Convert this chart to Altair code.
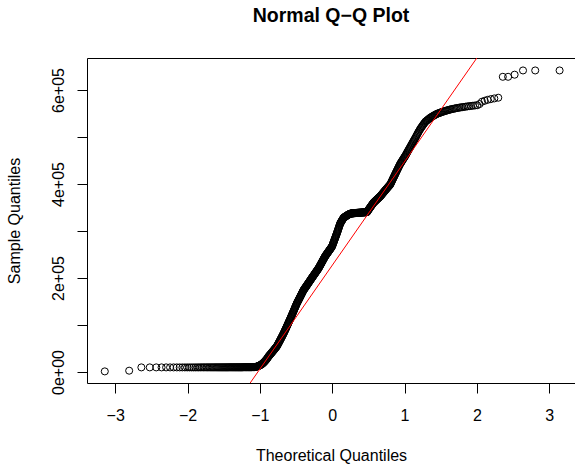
import altair as alt
import pandas as pd

# Sorted sample values in thousands (rank 1 = lowest)
low_tail_k = [1.3, 2.8,
    9.8, 9.8, 9.8, 9.8, 9.8, 9.8, 9.8, 9.8, 9.8, 9.8, 9.8, 9.8, 9.8, 9.8, 9.8, 9.8, 9.8, 9.8,
    9.9, 9.9, 9.9, 9.9, 9.9, 9.9, 9.9, 9.9, 9.9, 9.9, 9.9, 9.9, 9.9, 9.9, 9.9, 9.9, 9.9, 9.9, 9.9, 9.9,
    9.9, 9.9, 9.9, 9.9, 9.9,
    10.0, 10.0, 10.0, 10.0, 10.0, 10.0, 10.0, 10.0, 10.0, 10.0, 10.0, 10.0, 10.0, 10.0, 10.0, 10.0, 10.0, 10.0, 10.0, 10.0,
    10.2, 10.2, 10.2, 10.2, 10.2, 10.2, 10.2, 10.2, 10.2, 10.2, 10.2, 10.2, 10.2, 10.2, 10.2,
    10.4, 10.4, 10.4, 10.4, 10.4,
    10.6, 10.8, 11.0, 11.3, 11.6, 12.0, 12.4, 12.8, 13.3, 13.8, 14.3, 14.9, 15.5, 16.2, 17.0,
    17.8, 18.7, 19.6, 20.6, 21.6, 22.7, 23.8, 25.0, 26.2, 27.4, 28.7, 30.0, 31.5, 33.0]

rise_k = [34.1, 35.2, 36.3, 37.4, 38.5, 39.6, 40.7, 41.8, 42.9, 44.0, 45.1, 46.2, 47.3, 48.4, 49.5,
    50.6, 51.7, 52.8, 53.9, 55.0,
    56.6, 58.2, 59.8, 61.4, 63.0, 64.5, 66.1, 67.7, 69.3, 70.9, 72.5, 74.1, 75.6, 77.2, 78.8, 80.4, 82.0,
    83.7, 85.4, 87.2, 88.9, 90.6, 92.3, 94.1, 95.8, 97.5, 99.2, 100.9, 102.7, 104.4, 106.1, 107.8, 109.6,
    111.3, 113.0,
    114.7, 116.5, 118.2, 119.9, 121.7, 123.4, 125.2, 126.9, 128.6, 130.4, 132.1, 133.8, 135.6, 137.3,
    139.1, 140.8, 142.5, 144.3, 146.0,
    147.4, 148.8, 150.2, 151.6, 153.0, 154.4, 155.8, 157.2, 158.6, 160.0, 161.4, 162.8, 164.2, 165.6,
    167.0, 168.4, 169.8, 171.2, 172.6, 174.0,
    175, 176, 177, 178, 179, 180, 181, 182, 183, 184, 185, 186, 187, 188, 189, 190, 191, 192, 193, 194,
    195, 196, 197, 198, 199, 200,
    201.0, 201.9, 202.9, 203.8, 204.8, 205.7, 206.7, 207.6, 208.6, 209.5, 210.5, 211.5, 212.4, 213.4,
    214.3, 215.3, 216.2, 217.2, 218.1, 219.1, 220.0, 221.0,
    222.2, 223.4, 224.6, 225.8, 227.0, 228.1, 229.3, 230.5, 231.7, 232.9, 234.1, 235.3, 236.5, 237.7,
    238.9, 240.0, 241.2, 242.4, 243.6, 244.8, 246.0,
    246.9, 247.8, 248.7, 249.7, 250.6, 251.5, 252.4, 253.3, 254.2, 255.1, 256.0, 257.0, 257.9, 258.8,
    259.7, 260.6, 261.5, 262.4, 263.3, 264.3, 265.2, 266.1, 267.0,
    268.8, 270.5, 272.3, 274.0, 275.8, 277.5, 279.3, 281.0, 282.8, 284.5, 286.3, 288.0, 289.8, 291.5,
    293.3, 295.0,
    296.9, 298.8, 300.7, 302.6, 304.5, 306.5, 308.4, 310.3, 312.2, 314.1, 316.0,
    317.1, 318.2, 319.3, 320.4, 321.5, 322.5, 323.6, 324.7, 325.8, 326.9, 328.0,
    328.5, 328.9, 329.4, 329.8, 330.3, 330.7, 331.2, 331.6, 332.1, 332.5, 333.0]

plateau_k = [333.4, 333.7, 334.1, 334.5, 334.8, 335.2, 335.5, 335.9, 336.3, 336.6, 337.0,
    337.1, 337.1, 337.2, 337.3, 337.4, 337.4, 337.5, 337.6, 337.6, 337.7, 337.8, 337.9, 337.9, 338.0,
    338.1, 338.1, 338.2, 338.3, 338.4, 338.4, 338.5,
    338.6, 338.6, 338.7, 338.7, 338.8, 338.8, 338.9, 338.9, 339.0, 339.0, 339.1, 339.1, 339.2, 339.2,
    339.3, 339.3, 339.4, 339.4, 339.5, 339.5, 339.6, 339.6, 339.7, 339.7, 339.8, 339.8, 339.9, 339.9,
    340.0, 340.0,
    341.1, 342.1, 343.2, 344.2, 345.3, 346.3, 347.4, 348.4, 349.5, 350.5, 351.6, 352.6, 353.7, 354.7,
    355.8, 356.8, 357.9, 358.9, 360.0]

upper_k = [360.7, 361.5, 362.2, 362.9, 363.7, 364.4, 365.2, 365.9, 366.6, 367.4, 368.1, 368.8, 369.6,
    370.3, 371.1, 371.8, 372.5, 373.3, 374.0,
    375, 376, 377, 378, 379, 380, 381, 382, 383, 384, 385, 386, 387, 388, 389, 390, 391, 392, 393, 394,
    395, 396, 397, 398, 399,
    400.9, 402.8, 404.7, 406.6, 408.5, 410.5, 412.4, 414.3, 416.2, 418.1, 420.0,
    422, 424, 426, 428, 430, 432, 434, 436, 438, 440, 442,
    443.6, 445.3, 446.9, 448.5, 450.2, 451.8, 453.5, 455.1, 456.7, 458.4, 460.0,
    462, 464, 466, 468, 470, 472, 474, 476, 478,
    480.1, 482.2, 484.3, 486.4, 488.6, 490.7, 492.8, 494.9, 497.0,
    499.4, 501.8, 504.1, 506.5, 508.9, 511.3, 513.6, 516.0,
    518, 520, 522, 524, 526, 528, 530, 532,
    533.3, 534.6, 535.9, 537.1, 538.4, 539.7, 541.0,
    542, 543, 544, 545, 546, 547, 548, 549,
    549.7, 550.4, 551.1, 551.9, 552.6, 553.3, 554.0,
    554.7, 555.3, 556.0, 556.7, 557.3, 558.0,
    558.6, 559.2, 559.8, 560.3, 560.9, 561.5,
    562.0, 562.5, 563.0, 563.5, 564.0, 564.5, 565.0,
    565.5, 566.0, 566.5, 567.0, 567.5, 570.0]

high_tail_k = [575, 577, 579, 580.5, 582, 583.5, 628, 628, 632.5, 641.5, 641.5, 641.5]

# Reference line (qqline) read at two points
qqline_x = [-1.2, 2.1]
qqline_y = [-37900, 690100]

x_ticks = [-3, -2, -1, 0, 1, 2, 3]
x_labels = ["\u22123", "\u22122", "\u22121", "0", "1", "2", "3"]
y_ticks = [0, 100000, 200000, 300000, 400000, 500000, 600000]
y_labels = ["0e+00", "", "2e+05", "", "4e+05", "", "6e+05"]

FONT = "Liberation Sans"

sample_k = low_tail_k + rise_k + plateau_k + upper_k + high_tail_k
pts = pd.DataFrame({"value": [v * 1000 for v in sample_k]})
line_df = pd.DataFrame({"x": qqline_x, "y": qqline_y})


def expr(ticks, labels):
    parts = [f"datum.value == {t} ? '{l}'" for t, l in zip(ticks, labels)]
    return " : ".join(parts) + " : ''"


xscale = alt.Scale(domain=[-3.39, 3.357], nice=False, zero=False)
yscale = alt.Scale(domain=[-23400, 668000], nice=False, zero=False)

xaxis = alt.Axis(values=x_ticks, labelExpr=expr(x_ticks, x_labels), grid=False, domain=False,
                 tickSize=10, tickColor="black", tickWidth=1, labelPadding=14,
                 labelFontSize=16, labelFont=FONT, labelColor="black", labelFlush=False,
                 labelOverlap=False, title="Theoretical Quantiles", titleFont=FONT,
                 titleFontSize=16, titleFontWeight="normal", titleColor="black",
                 titleBaseline="alphabetic", titleY=77.4)
yaxis = alt.Axis(values=y_ticks, labelExpr=expr(y_ticks, y_labels), grid=False, domain=False,
                 tickSize=10, tickColor="black", tickWidth=1, labelPadding=14,
                 labelAngle=-90, labelAlign="center", labelBaseline="alphabetic",
                 labelFontSize=16, labelFont=FONT, labelColor="black", labelFlush=False,
                 labelOverlap=False, title="Sample Quantiles", titleFont=FONT,
                 titleFontSize=16, titleFontWeight="normal", titleColor="black",
                 titleBaseline="alphabetic", titleAlign="center", titleAngle=-90,
                 titleX=-67.5, titleY=162.5)

points = alt.Chart(pts).transform_window(
    rank="row_number()", sort=[{"field": "value"}]
).transform_joinaggregate(
    n="count()"
).transform_calculate(
    theo="quantileNormal((datum.rank - 0.5) / datum.n)"
).mark_point(
    shape="circle", filled=False, color="black", size=50, strokeWidth=1, opacity=1, clip=True
).encode(
    x=alt.X("theo:Q", scale=xscale, axis=xaxis),
    y=alt.Y("value:Q", scale=yscale, axis=yaxis),
)

line = alt.Chart(line_df).mark_line(color="red", strokeWidth=1, clip=True).encode(
    x=alt.X("x:Q", scale=xscale, title="Theoretical Quantiles"),
    y=alt.Y("y:Q", scale=yscale, title="Sample Quantiles"),
)

chart = alt.layer(points, line).properties(
    width=488,
    height=325,
    title=alt.TitleParams("Normal Q\u2212Q Plot", font=FONT, fontSize=19.5, fontWeight="bold",
                          color="black", anchor="middle", baseline="alphabetic", offset=17),
    autosize=alt.AutoSizeParams(type="none"),
    padding={"left": 87, "top": 58, "right": 0, "bottom": 81},
    background="white",
).configure_view(stroke="black", strokeWidth=1)

chart.save("out.html", embed_options={"renderer": "svg", "actions": False})
